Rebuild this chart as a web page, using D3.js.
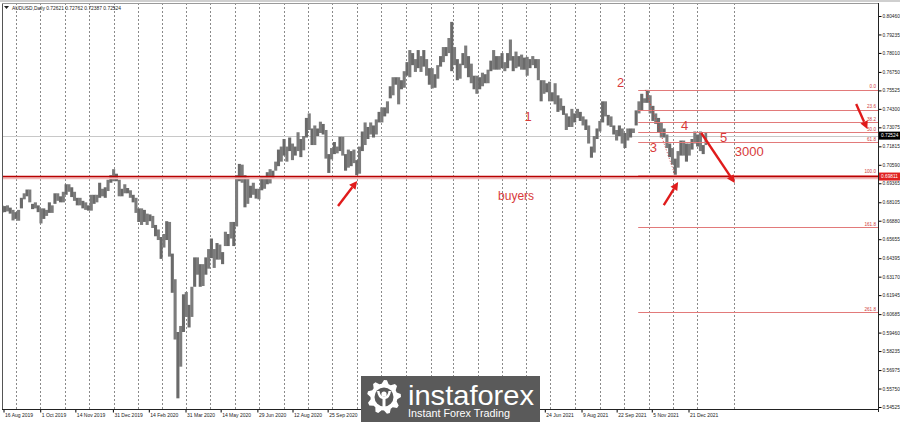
<!DOCTYPE html>
<html><head><meta charset="utf-8">
<script src="https://cdn.jsdelivr.net/npm/d3@7"></script>
<style>body{margin:0;background:#fff}svg{display:block}text{font-family:"Liberation Sans",Arial,sans-serif}</style>
</head><body><svg id="c" width="900" height="422"></svg>
<script>
// ---------------- data ----------------
const symbolTitle = "AUDUSD,Daily";
const ohlcHeader = ["0.72621", "0.72762", "0.72387", "0.72524"];
const firstPeriod = "2019-08-12"; // half-week periods (3.5 days each) starting on this Monday
const highs = [
 .6790,.6785, .6790,.6775, .6760,.6745, .6760,.6840, .6870,.6895, .6895,.6800, .6810,.6790, .6770,.6770,
 .6760,.6810, .6790,.6870, .6870,.6850, .6880,.6930, .6930,.6910, .6880,.6840, .6840,.6820, .6810,.6790,
 .6860,.6860, .6860,.6940, .6900,.6910, .6960,.6990, .7030,.7000,
 .6960,.6900, .6930,.6905, .6890,.6860, .6840,.6770, .6770,.6760, .6735,.6730, .6720,.6660, .6630,.6580,
 .6600,.6685, .6680,.6470, .6300,.5950, .5990,.6200, .6215,.6130, .6250,.6445, .6445,.6400, .6400,.6445,
 .6500,.6570, .6500,.6540, .6530,.6480, .6615,.6600, .6680,.6680, .6990,.7065, .7060,.6990, .6975,.6920,
 .6940,.6900, .6900,.6980, .6980,.7010, .7030,.7020, .7080,.7160, .7180,.7230, .7180,.7240, .7200,.7180,
 .7275,.7230, .7250,.7370, .7400,.7300, .7320,.7300, .7345,.7330, .7290,.7130, .7170,.7210, .7180,.7245,
 .7245,.7130, .7160,.7150, .7160,.7090, .7180,.7280, .7340,.7310, .7340,.7320, .7360,.7410, .7440,.7440,
 .7480,.7580, .7640,.7640, .7640,.7620, .7680,.7740,
 .7820,.7800, .7760,.7820, .7780,.7820, .7760,.7700, .7700,.7660, .7720,.7780, .7840,.7840, .7900,.8007,
 .7840,.7760, .7730,.7800, .7850,.7780, .7730,.7650, .7650,.7640, .7670,.7660, .7690,.7750, .7820,.7780,
 .7780,.7800, .7740,.7800, .7890,.7780, .7810,.7780, .7790,.7770, .7775,.7760, .7780,.7760, .7760,.7620,
 .7620,.7600, .7610,.7540, .7600,.7520, .7500,.7450, .7400,.7380, .7430,.7400, .7430,.7410, .7380,.7360,
 .7320,.7180, .7250,.7300, .7350,.7480, .7480,.7390, .7380,.7320, .7290,.7320, .7300,.7270, .7300,.7300,
 .7300,.7420, .7480,.7530, .7500,.7556, .7520,.7450, .7400,.7370, .7340,.7300, .7260,.7200, .7170,.7100,
 .7150,.7220, .7220,.7200, .7200,.7230, .7280,.7260, .7280,.7190, .7276,.7276];
const lows = [
 .6740,.6745, .6750,.6735, .6690,.6700, .6688,.6770, .6830,.6850, .6810,.6765, .6770,.6745, .6670,.6700,
 .6720,.6740, .6740,.6800, .6820,.6810, .6810,.6860, .6880,.6845, .6820,.6790, .6790,.6770, .6760,.6755,
 .6755,.6800, .6810,.6840, .6850,.6840, .6885,.6940, .6950,.6950,
 .6850,.6850, .6870,.6870, .6840,.6810, .6740,.6680, .6660,.6680, .6660,.6685, .6640,.6585, .6560,.6435,
 .6510,.6560, .6450,.6210, .5900,.5510, .5720,.5950, .6050,.5980, .6050,.6250, .6330,.6250, .6255,.6330,
 .6370,.6440, .6375,.6430, .6430,.6400, .6520,.6520, .6570,.6520, .6650,.6950, .6940,.6777, .6800,.6840,
 .6860,.6835, .6830,.6890, .6900,.6930, .6935,.6970, .7020,.7050, .7080,.7120, .7080,.7150, .7090,.7120,
 .7150,.7110, .7155,.7240, .7290,.7190, .7190,.7250, .7270,.7260, .7100,.7005, .7095,.7130, .7135,.7150,
 .7120,.7020, .7040,.7050, .7070,.6990, .7000,.7150, .7190,.7230, .7260,.7240, .7260,.7340, .7340,.7380,
 .7400,.7500, .7520,.7590, .7460,.7560, .7570,.7650,
 .7640,.7720, .7675,.7700, .7675,.7710, .7650,.7590, .7565,.7570, .7630,.7710, .7740,.7780, .7800,.7680,
 .7720,.7620, .7630,.7720, .7700,.7640, .7600,.7560, .7530,.7560, .7580,.7600, .7600,.7680, .7690,.7690,
 .7690,.7700, .7680,.7700, .7750,.7680, .7700,.7710, .7690,.7690, .7650,.7700, .7720,.7700, .7620,.7480,
 .7530,.7540, .7480,.7480, .7460,.7410, .7420,.7390, .7290,.7310, .7310,.7340, .7370,.7350, .7320,.7290,
 .7200,.7106, .7140,.7230, .7280,.7340, .7380,.7320, .7310,.7260, .7220,.7250, .7200,.7170, .7220,.7240,
 .7270,.7320, .7400,.7420, .7470,.7470, .7400,.7350, .7330,.7270, .7240,.7240, .7170,.7110, .7060,.6993,
 .7040,.7120, .7120,.7080, .7120,.7160, .7200,.7180, .7150,.7130, .7190,.7240];
const lastDate = "2022-01-13";

const priceTicks = ["0.80460","0.79235","0.78010","0.76750","0.75525","0.74300","0.73075","0.71815","0.70590","0.69365",
 "0.68105","0.66880","0.65655","0.64395","0.63170","0.61945","0.60685","0.59460","0.58235","0.56975","0.55750","0.54525"];
const dateTicks = ["2019-08-16","2019-10-01","2019-11-14","2019-12-31","2020-02-14","2020-03-31","2020-05-14","2020-06-29",
 "2020-08-12","2020-09-25","2021-06-24","2021-08-09","2021-09-22","2021-11-05","2021-12-21"];
const dateTickLabels = ["16 Aug 2019","1 Oct 2019","14 Nov 2019","31 Dec 2019","14 Feb 2020","31 Mar 2020","14 May 2020",
 "29 Jun 2020","12 Aug 2020","25 Sep 2020","24 Jun 2021","9 Aug 2021","22 Sep 2021","5 Nov 2021","21 Dec 2021"];

const lastPrice = 0.72524;
const supportPrice = 0.69811;
const fibHigh = 0.7556, fibLow = 0.6993, fibStart = "2021-10-19";
const fibHighDate = "2021-10-28", fibLowDate = "2021-12-04";
const fibLevels = [0, 23.6, 38.2, 50, 61.8, 100, 161.8, 261.8];
const fibLabels = ["0.0","23.6","38.2","50.0","61.8","100.0","161.8","261.8"];
const projectionDate = "2022-02-16";

const noteTexts = ["1","2","3","4","5","3000","buyers"];
const noteDates = ["2021-06-03","2021-09-27","2021-11-07","2021-12-16","2022-02-03","2022-02-17","2021-05-19"];
const notePrices = [0.7383, 0.7608, 0.7177, 0.7323, 0.7243, 0.7150, 0.6852];
const noteAnchors = ["middle","middle","middle","middle","middle","start","middle"];
const noteSizes = [13,13,13,13,13,13,12];

const arrowFromDates = ["2020-10-08","2021-11-20","2022-01-06","2022-07-19"];
const arrowFromPrices = [0.6786, 0.6792, 0.7270, 0.7462];
const arrowToDates = ["2020-11-01","2021-12-08","2022-02-17","2022-08-02"];
const arrowToPrices = [0.6952, 0.6945, 0.6938, 0.7296];

// ---------------- layout ----------------
const P = {left: 2, right: 878, top: 3, bottom: 409};
const parse = d3.utcParse("%Y-%m-%d");
const x = d3.scaleUtc().domain([parse("2019-08-16"), parse("2021-12-21")]).range([3.5, 688.5]);
const y = d3.scaleLinear().domain([0.54525, 0.80460]).range([407, 16]);
const svg = d3.select("#c");
svg.append("rect").attr("width", 900).attr("height", 422).attr("fill", "#fff");
svg.append("rect").attr("x", 0).attr("y", 0).attr("width", 900).attr("height", 2).attr("fill", "#cfcfcf");

const defs = svg.append("defs");
defs.append("clipPath").attr("id", "plot").append("rect")
  .attr("x", P.left).attr("y", P.top).attr("width", P.right - P.left).attr("height", P.bottom - P.top);
const g = svg.append("g").attr("clip-path", "url(#plot)");

// month grid (dotted verticals)
const months = d3.utcMonth.range(parse("2019-09-01"), parse("2022-01-02"));
months.push(parse(projectionDate));
g.selectAll("line.grid").data(months).join("line").attr("class", "grid")
  .attr("x1", d => Math.round(x(d)) + 0.5).attr("x2", d => Math.round(x(d)) + 0.5)
  .attr("y1", P.top).attr("y2", P.bottom)
  .attr("stroke", "#8a8a8a").attr("stroke-width", 1).attr("stroke-dasharray", "2,2");

// last price line
g.append("line").attr("x1", P.left).attr("x2", P.right)
  .attr("y1", Math.round(y(lastPrice)) + 0.5).attr("y2", Math.round(y(lastPrice)) + 0.5)
  .attr("stroke", "#c8c8c8").attr("stroke-width", 1);

// price bars (half-week ranges)
const end = parse(lastDate);
const periods = highs.map((h, i) => {
  const d0 = d3.utcHour.offset(parse(firstPeriod), 84 * i);
  let d1 = d3.utcHour.offset(d0, 84);
  if (d1 > end) d1 = end;
  return {d0, d1, h, l: lows[i]};
}).filter(p => p.d1 > p.d0);
g.selectAll("rect.bar").data(periods).join("rect").attr("class", "bar")
  .attr("x", d => x(d.d0)).attr("width", d => x(d.d1) - x(d.d0) + 0.3)
  .attr("y", d => y(d.h)).attr("height", d => y(d.l) - y(d.h))
  .attr("fill", (d, i) => i % 2 ? "#6a6a6a" : "#7c7c7c");

// support line
g.append("line").attr("x1", P.left).attr("x2", P.right)
  .attr("y1", y(supportPrice) + 1.6).attr("y2", y(supportPrice) + 1.6)
  .attr("stroke", "#f2b8b8").attr("stroke-width", 2);
g.append("line").attr("x1", P.left).attr("x2", P.right)
  .attr("y1", y(supportPrice)).attr("y2", y(supportPrice))
  .attr("stroke", "#b80000").attr("stroke-width", 1.4);

// fibonacci
const fibPrice = lv => fibHigh - lv / 100 * (fibHigh - fibLow);
g.selectAll("line.fib").data(fibLevels).join("line").attr("class", "fib")
  .attr("x1", x(parse(fibStart))).attr("x2", P.right)
  .attr("y1", d => Math.round(y(fibPrice(d))) + 0.5).attr("y2", d => Math.round(y(fibPrice(d))) + 0.5)
  .attr("stroke", "#e27a7a").attr("stroke-width", 1);
g.selectAll("text.fib").data(fibLevels).join("text").attr("class", "fib")
  .attr("x", P.right - 2).attr("y", d => y(fibPrice(d)) - 1.5)
  .attr("text-anchor", "end").attr("font-size", 4.6).attr("fill", "#d03c3c")
  .text((d, i) => fibLabels[i]);
g.append("line")
  .attr("x1", x(parse(fibHighDate))).attr("y1", y(fibHigh))
  .attr("x2", x(parse(fibLowDate))).attr("y2", y(fibLow))
  .attr("stroke", "#d04040").attr("stroke-width", 1).attr("stroke-dasharray", "1,2");

// notes
g.selectAll("text.note").data(noteTexts).join("text").attr("class", "note")
  .attr("x", (d, i) => x(parse(noteDates[i]))).attr("y", (d, i) => y(notePrices[i]))
  .attr("dy", "0.35em").attr("text-anchor", (d, i) => noteAnchors[i])
  .attr("font-size", (d, i) => noteSizes[i]).attr("fill", "#d83a3a").text(d => d);

// arrows
arrowFromDates.forEach((fd, i) => {
  const x1 = x(parse(fd)), y1 = y(arrowFromPrices[i]);
  const x2 = x(parse(arrowToDates[i])), y2 = y(arrowToPrices[i]);
  const a = Math.atan2(y2 - y1, x2 - x1), L = 8, Wd = 4;
  const bx = x2 - L * Math.cos(a), by = y2 - L * Math.sin(a);
  g.append("line").attr("x1", x1).attr("y1", y1).attr("x2", bx).attr("y2", by)
    .attr("stroke", "#e01b1b").attr("stroke-width", 2.4);
  g.append("path").attr("d", `M${x2},${y2}L${bx - Wd * Math.sin(a)},${by + Wd * Math.cos(a)}L${bx + Wd * Math.sin(a)},${by - Wd * Math.cos(a)}Z`)
    .attr("fill", "#e01b1b");
});

// frame
svg.append("line").attr("x1", P.left + 0.5).attr("x2", P.left + 0.5).attr("y1", P.top).attr("y2", P.bottom).attr("stroke", "#555");
svg.append("line").attr("x1", P.left).attr("x2", P.right).attr("y1", P.top + 0.5).attr("y2", P.top + 0.5).attr("stroke", "#9a9a9a");

// price axis
const ya = svg.append("g").attr("transform", `translate(${P.right + 0.5},0)`)
  .call(d3.axisRight(y).tickValues(priceTicks.map(Number)).tickSize(3).tickPadding(1)
    .tickFormat((d, i) => priceTicks[i]));
ya.select(".domain").remove();
ya.selectAll("text").attr("font-size", 4.8).attr("fill", "#222").attr("font-family", "Liberation Sans");
svg.append("line").attr("x1", P.right + 0.5).attr("x2", P.right + 0.5).attr("y1", P.top).attr("y2", P.bottom + 3).attr("stroke", "#222");

// date axis
const xa = svg.append("g").attr("transform", `translate(0,${P.bottom + 0.5})`)
  .call(d3.axisBottom(x).tickValues(dateTicks.map(parse)).tickSize(3)
    .tickFormat((d, i) => dateTickLabels[i]));
xa.select(".domain").remove();
xa.selectAll("text").attr("font-size", 5).attr("fill", "#222").attr("text-anchor", "start")
  .attr("x", 1).attr("y", 7).attr("dy", 0).attr("font-family", "Liberation Sans");
svg.append("line").attr("x1", P.left).attr("x2", P.right).attr("y1", P.bottom + 0.5).attr("y2", P.bottom + 0.5).attr("stroke", "#222");

// price boxes
function priceBox(v, bg, label) {
  const yy = y(v);
  svg.append("rect").attr("x", P.right + 1).attr("y", yy - 4).attr("width", 21).attr("height", 8).attr("fill", bg);
  svg.append("text").attr("x", P.right + 3).attr("y", yy).attr("dy", "0.35em").attr("font-size", 4.8)
    .attr("fill", "#fff").text(label);
}
priceBox(lastPrice, "#000", lastPrice.toFixed(5));
priceBox(supportPrice, "#e02020", supportPrice.toFixed(5));

// header
svg.append("path").attr("d", "M4,6L9,6L6.5,9Z").attr("fill", "#222");
svg.append("text").attr("x", 12).attr("y", 10).attr("font-size", 4.9).attr("fill", "#222")
  .text(symbolTitle + "  " + ohlcHeader.join(" "));

// logo watermark
const logo = svg.append("g");
logo.append("rect").attr("x", 361).attr("y", 376).attr("width", 179).attr("height", 46).attr("fill", "#5a5a5a");
const cx = 384, cy = 397, R = 17, r0 = 13.5;
const teeth = 9;
let gp = "";
for (let k = 0; k < teeth * 4; k++) {
  const ang = (k / (teeth * 4)) * 2 * Math.PI - Math.PI / 2;
  const rr = (k % 4 < 2) ? R : r0;
  gp += (k ? "L" : "M") + (cx + rr * Math.cos(ang)).toFixed(2) + "," + (cy + rr * Math.sin(ang)).toFixed(2);
}
logo.append("path").attr("d", gp + "Z").attr("fill", "#fff");
logo.append("circle").attr("cx", cx).attr("cy", cy).attr("r", 9.5).attr("fill", "#5a5a5a");
logo.append("circle").attr("cx", cx).attr("cy", cy - 3).attr("r", 2.6).attr("fill", "#fff");
logo.append("path").attr("d", `M${cx-7},${cy-6}Q${cx-6},${cy+1} ${cx-1.5},${cy+2}L${cx-1.5},${cy+12}L${cx+1.5},${cy+12}L${cx+1.5},${cy+2}Q${cx+6},${cy+1} ${cx+7},${cy-6}L${cx+4.5},${cy-6}Q${cx+4},${cy-1} ${cx},${cy-0.5}Q${cx-4},${cy-1} ${cx-4.5},${cy-6}Z`).attr("fill", "#fff");
logo.append("text").attr("x", 408).attr("y", 405).attr("font-size", 28).attr("fill", "#fff")
  .attr("font-family", "Open Sans").attr("textLength", 126).attr("lengthAdjust", "spacingAndGlyphs").text("instaforex");
logo.append("text").attr("x", 408).attr("y", 417).attr("font-size", 11.5).attr("fill", "#fff")
  .attr("font-family", "Open Sans").attr("textLength", 102).attr("lengthAdjust", "spacingAndGlyphs").text("Instant Forex Trading");
</script></body></html>
